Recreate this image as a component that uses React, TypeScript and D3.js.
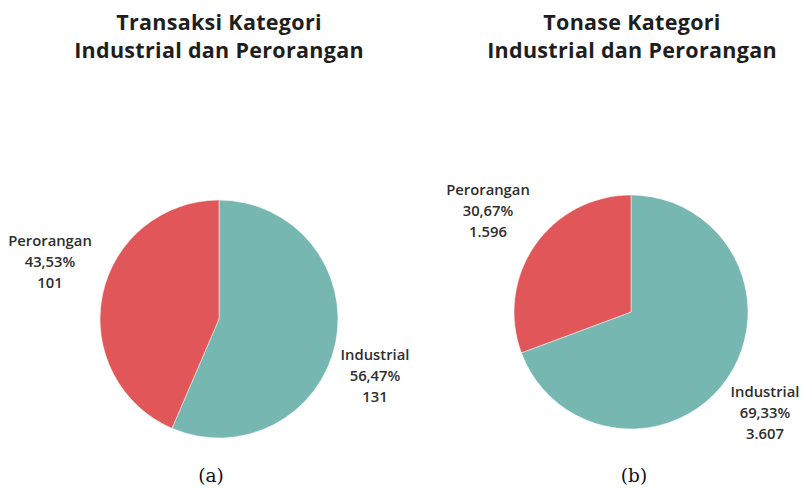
import React from "react";
import * as d3 from "d3";

const categories = ["Industrial", "Perorangan"];
const transaksiValues = [131, 101];
const transaksiPercent = ["56,47%", "43,53%"];
const tonaseValues = ["3.607", "1.596"];
const tonaseNumeric = [3607, 1596];
const tonasePercent = ["69,33%", "30,67%"];
const colors = ["#76b7b2", "#e15759"];
const titlesA = ["Transaksi Kategori", "Industrial dan Perorangan"];
const titlesB = ["Tonase Kategori", "Industrial dan Perorangan"];
const captions = ["(a)", "(b)"];

type PieSpec = {
  cx: number;
  cy: number;
  r: number;
  values: number[];
  valueLabels: string[];
  percents: string[];
  titles: string[];
  titleX: number;
  caption: string;
  captionX: number;
  labelPos: { x: number; y: number }[];
};

function Pie({ spec }: { spec: PieSpec }) {
  const pie = d3.pie<number>().sort(null).value((d) => d);
  const arcs = pie(spec.values);
  const arc = d3.arc<d3.PieArcDatum<number>>().innerRadius(0).outerRadius(spec.r);
  return (
    <g>
      {spec.titles.map((t, i) => (
        <text
          key={t + i}
          x={spec.titleX}
          y={30 + i * 28}
          textAnchor="middle"
          fontFamily="'Open Sans', sans-serif"
          fontWeight={700}
          fontSize={21.5}
          letterSpacing={0.3}
          fill="#1e1e1e"
        >
          {t}
        </text>
      ))}
      <g transform={`translate(${spec.cx},${spec.cy})`}>
        {arcs.map((a, i) => (
          <path key={i} d={arc(a) || ""} fill={colors[i]} stroke="#fff" strokeWidth={0.5} />
        ))}
      </g>
      {categories.map((c, i) => {
        const p = spec.labelPos[i];
        return (
          <text
            key={c}
            x={p.x}
            y={p.y}
            textAnchor="middle"
            fontFamily="'Open Sans', sans-serif"
            fontWeight={600}
            fontSize={14.8}
            fill="#2e2e2e"
          >
            <tspan x={p.x} dy={0}>{c}</tspan>
            <tspan x={p.x} dy={21}>{spec.percents[i]}</tspan>
            <tspan x={p.x} dy={21}>{spec.valueLabels[i]}</tspan>
          </text>
        );
      })}
      <text
        x={spec.captionX}
        y={482}
        textAnchor="middle"
        fontFamily="'DejaVu Serif', 'Liberation Serif', serif"
        fontSize={18.5}
        fill="#111"
      >
        {spec.caption}
      </text>
    </g>
  );
}

export default function App() {
  const specA: PieSpec = {
    cx: 219,
    cy: 319,
    r: 119,
    values: transaksiValues,
    valueLabels: transaksiValues.map(String),
    percents: transaksiPercent,
    titles: titlesA,
    titleX: 219,
    caption: captions[0],
    captionX: 211,
    labelPos: [
      { x: 375, y: 360 },
      { x: 50, y: 246 },
    ],
  };
  const specB: PieSpec = {
    cx: 631,
    cy: 312,
    r: 117,
    values: tonaseNumeric,
    valueLabels: tonaseValues,
    percents: tonasePercent,
    titles: titlesB,
    titleX: 632,
    caption: captions[1],
    captionX: 634,
    labelPos: [
      { x: 765, y: 397 },
      { x: 488, y: 195 },
    ],
  };
  return (
    <svg
      width={803}
      height={490}
      style={{ position: "absolute", left: 0, top: 0, background: "#fff" }}
    >
      <rect width={803} height={490} fill="#fff" />
      <Pie spec={specA} />
      <Pie spec={specB} />
    </svg>
  );
}
